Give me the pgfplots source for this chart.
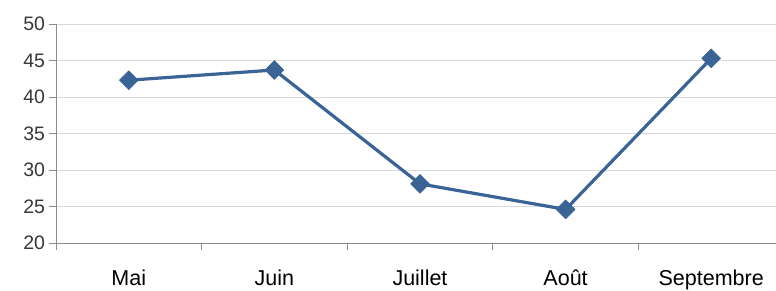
\documentclass[border=0pt]{standalone}
\usepackage{pgfplots}
\pgfplotsset{compat=1.18}
\usepackage{fontspec}
\setmainfont{Liberation Sans}
\definecolor{serie}{HTML}{3A6396}
\definecolor{grille}{HTML}{D9D9D9}
\definecolor{axe}{HTML}{8C8C8C}
\begin{document}
\begin{tikzpicture}
\begin{axis}[
  scale only axis,
  width=720bp, height=219bp,
  xmin=-0.5, xmax=4.445,
  ymin=20, ymax=50,
  ytick={20,25,...,50},
  xtick={-0.5,0.5,1.5,2.5,3.5},
  xticklabels={},
  extra x ticks={0,1,2,3,4},
  extra x tick labels={Mai,Juin,Juillet,Août,Septembre},
  extra x tick style={grid=none, tick style={draw=none}},
  axis x line*=bottom, axis y line*=left,
  axis line style={draw=axe, line width=1pt},
  x axis line style={-}, y axis line style={-},
  ymajorgrids, grid style={grille, line width=1pt},
  tick align=outside,
  tick style={draw=axe, line width=1pt},
  major tick length=6.5bp,
  /pgf/number format/assume math mode=true,
  yticklabel style={font=\fontsize{19.5bp}{20bp}\selectfont, text=black!78, xshift=-1bp},
  xticklabel style={font=\fontsize{21.5bp}{22bp}\selectfont, text=black, yshift=-16.5bp},
  clip=false,
]
\addplot[serie, line width=3.2bp, mark=square*, mark size=6.7bp, mark options={rotate=45, fill=serie, draw=serie, line width=0.5bp}]
coordinates {(0,42.3) (1,43.7) (2,28.1) (3,24.6) (4,45.3)};
\end{axis}
\pgfresetboundingbox
\path[use as bounding box] (-56bp,-48bp) rectangle (720bp,243bp);
\end{tikzpicture}
\end{document}
